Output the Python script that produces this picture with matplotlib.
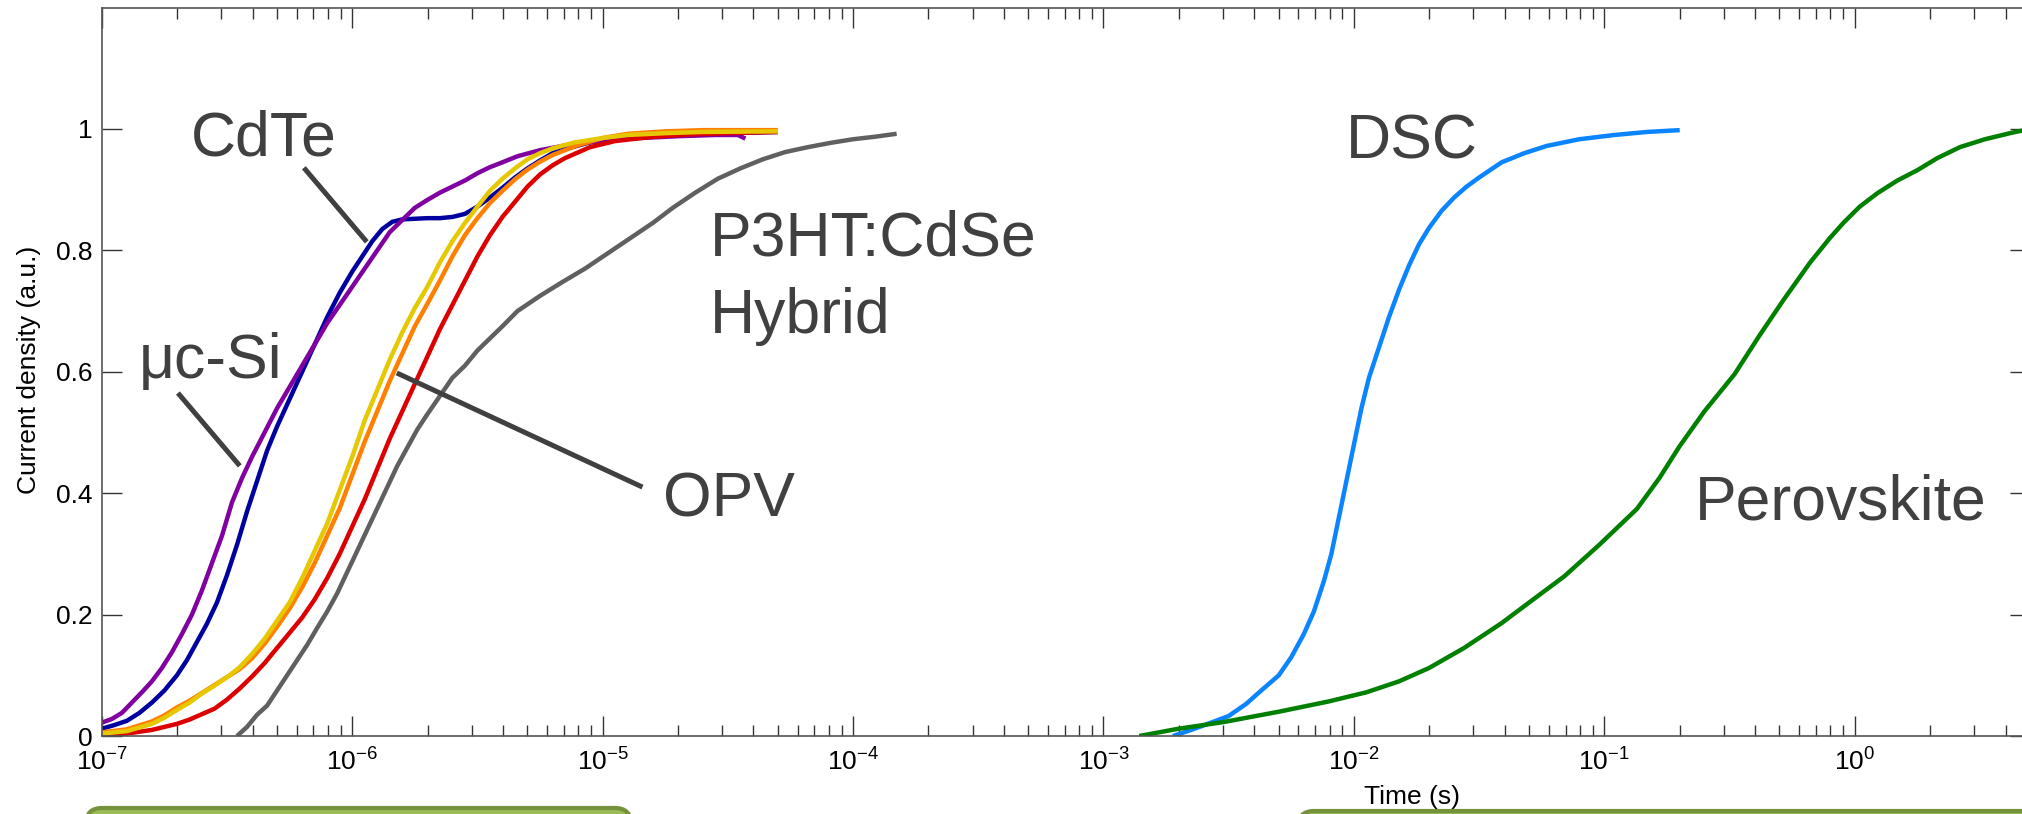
import numpy as np
import matplotlib
matplotlib.use('Agg')
import matplotlib.pyplot as plt
import matplotlib.transforms as mtransforms
from matplotlib.patches import FancyBboxPatch
from matplotlib.ticker import LogLocator, FixedLocator, FuncFormatter, NullFormatter

plt.rcParams['font.family'] = ['Liberation Sans', 'DejaVu Sans']
plt.rcParams['axes.unicode_minus'] = False

# ── Transients (log10 of time in s, normalised current) ──────────────────────
logt_usi = [-7.00, -6.96, -6.92, -6.88, -6.84, -6.80, -6.76, -6.72, -6.68, -6.64, -6.60,
            -6.56, -6.52, -6.48, -6.44, -6.40, -6.35, -6.30, -6.25, -6.20, -6.15,
            -6.10, -6.05, -6.00, -5.95, -5.90, -5.85, -5.80, -5.75, -5.70, -5.65,
            -5.60, -5.55, -5.50, -5.45, -5.40, -5.34, -5.25, -5.16, -5.05, -4.98,
            -4.85, -4.70, -4.55, -4.46, -4.43]
j_usi = [0.022, 0.028, 0.038, 0.055, 0.072, 0.090, 0.112, 0.138, 0.168, 0.200, 0.240,
         0.285, 0.33, 0.385, 0.425, 0.46, 0.50, 0.54, 0.575, 0.61, 0.645,
         0.68, 0.71, 0.74, 0.77, 0.80, 0.83, 0.85, 0.87, 0.883, 0.895,
         0.905, 0.915, 0.927, 0.937, 0.945, 0.955, 0.965, 0.972, 0.978, 0.982,
         0.985, 0.988, 0.99, 0.99, 0.984]

logt_cdte = [-7.00, -6.95, -6.90, -6.85, -6.80, -6.75, -6.70, -6.66, -6.62, -6.58, -6.54,
             -6.50, -6.46, -6.42, -6.38, -6.34, -6.30, -6.25, -6.20, -6.15, -6.10,
             -6.05, -6.00, -5.96, -5.92, -5.88, -5.84, -5.80, -5.75, -5.70, -5.65,
             -5.60, -5.55, -5.50, -5.45, -5.40, -5.35, -5.30, -5.25, -5.20, -5.12,
             -5.05, -4.95, -4.85, -4.70, -4.50, -4.30]
j_cdte = [0.012, 0.018, 0.025, 0.038, 0.055, 0.075, 0.10, 0.125, 0.155, 0.185, 0.22,
          0.265, 0.315, 0.37, 0.42, 0.47, 0.51, 0.555, 0.60, 0.645, 0.69,
          0.73, 0.765, 0.79, 0.815, 0.835, 0.847, 0.851, 0.852, 0.853, 0.853,
          0.855, 0.86, 0.872, 0.887, 0.903, 0.92, 0.935, 0.948, 0.96, 0.97,
          0.978, 0.984, 0.988, 0.991, 0.993, 0.995]

logt_opv1 = [-7.00, -6.90, -6.80, -6.75, -6.70, -6.65, -6.60, -6.55, -6.50, -6.45, -6.40,
             -6.35, -6.30, -6.25, -6.20, -6.15, -6.10, -6.05, -6.00, -5.95, -5.90,
             -5.85, -5.80, -5.75, -5.70, -5.65, -5.60, -5.55, -5.50, -5.45, -5.40,
             -5.35, -5.30, -5.25, -5.20, -5.11, -5.00, -4.90, -4.75, -4.60, -4.30]
j_opv1 = [0.004, 0.008, 0.02, 0.03, 0.043, 0.055, 0.07, 0.083, 0.097, 0.113, 0.135,
          0.16, 0.19, 0.22, 0.26, 0.305, 0.35, 0.405, 0.46, 0.52, 0.57,
          0.62, 0.665, 0.705, 0.74, 0.78, 0.815, 0.845, 0.872, 0.898, 0.918,
          0.935, 0.95, 0.96, 0.968, 0.978, 0.985, 0.99, 0.993, 0.995, 0.996]

logt_opv2 = [-7.00, -6.90, -6.80, -6.75, -6.70, -6.65, -6.60, -6.55, -6.50, -6.45, -6.40,
             -6.35, -6.30, -6.25, -6.20, -6.15, -6.10, -6.05, -6.00, -5.95, -5.90,
             -5.85, -5.80, -5.75, -5.70, -5.65, -5.60, -5.55, -5.50, -5.45, -5.40,
             -5.35, -5.30, -5.25, -5.20, -5.10, -5.00, -4.90, -4.75, -4.60, -4.30]
j_opv2 = [0.006, 0.011, 0.024, 0.034, 0.047, 0.058, 0.071, 0.084, 0.097, 0.11, 0.128,
          0.152, 0.18, 0.21, 0.245, 0.285, 0.33, 0.375, 0.43, 0.485, 0.535,
          0.585, 0.63, 0.675, 0.712, 0.75, 0.79, 0.825, 0.853, 0.878, 0.898,
          0.917, 0.933, 0.946, 0.957, 0.973, 0.985, 0.992, 0.996, 0.998, 0.998]

logt_opv3 = [-7.00, -6.95, -6.90, -6.85, -6.80, -6.75, -6.70, -6.65, -6.60, -6.55, -6.50,
             -6.45, -6.40, -6.35, -6.30, -6.25, -6.20, -6.15, -6.10, -6.05, -6.00,
             -5.95, -5.90, -5.85, -5.80, -5.75, -5.70, -5.65, -5.60, -5.55, -5.50,
             -5.45, -5.40, -5.35, -5.30, -5.25, -5.20, -5.15, -5.05, -4.95, -4.80,
             -4.65, -4.50, -4.30]
j_opv3 = [0.0, 0.002, 0.004, 0.007, 0.01, 0.015, 0.02, 0.027, 0.036, 0.045, 0.06,
          0.078, 0.098, 0.12, 0.145, 0.17, 0.195, 0.225, 0.26, 0.30, 0.345,
          0.39, 0.44, 0.49, 0.535, 0.58, 0.625, 0.67, 0.71, 0.75, 0.79,
          0.825, 0.855, 0.88, 0.905, 0.925, 0.94, 0.952, 0.97, 0.98, 0.987,
          0.991, 0.993, 0.995]

logt_hyb = [-6.46, -6.42, -6.38, -6.34, -6.30, -6.26, -6.22, -6.18, -6.14, -6.10, -6.06,
            -6.02, -5.98, -5.94, -5.90, -5.86, -5.82, -5.78, -5.74, -5.70, -5.65,
            -5.60, -5.55, -5.50, -5.45, -5.40, -5.34, -5.25, -5.16, -5.07, -4.98,
            -4.89, -4.80, -4.72, -4.63, -4.54, -4.45, -4.36, -4.27, -4.18, -4.09,
            -4.00, -3.915, -3.826]
j_hyb = [0.0, 0.015, 0.035, 0.05, 0.075, 0.10, 0.125, 0.15, 0.178, 0.205, 0.235,
         0.27, 0.305, 0.34, 0.375, 0.41, 0.445, 0.475, 0.505, 0.53, 0.56,
         0.59, 0.61, 0.635, 0.655, 0.675, 0.70, 0.725, 0.748, 0.77, 0.795,
         0.82, 0.845, 0.87, 0.895, 0.918, 0.935, 0.95, 0.962, 0.97, 0.977,
         0.983, 0.987, 0.992]

logt_dsc = [-2.723, -2.65, -2.59, -2.50, -2.43, -2.37, -2.30, -2.25, -2.20, -2.16, -2.12,
            -2.09, -2.06, -2.03, -2.00, -1.97, -1.94, -1.90, -1.86, -1.82, -1.78,
            -1.74, -1.70, -1.65, -1.60, -1.55, -1.50, -1.41, -1.32, -1.23, -1.10,
            -0.96, -0.83, -0.699]
j_dsc = [0.0, 0.01, 0.019, 0.033, 0.053, 0.075, 0.10, 0.13, 0.168, 0.205, 0.255,
         0.30, 0.36, 0.42, 0.48, 0.54, 0.59, 0.64, 0.69, 0.735, 0.775,
         0.81, 0.837, 0.865, 0.887, 0.905, 0.92, 0.945, 0.96, 0.972, 0.983,
         0.99, 0.995, 0.998]

logt_pero = [-2.857, -2.70, -2.52, -2.30, -2.10, -1.95, -1.82, -1.70, -1.56, -1.41, -1.30,
             -1.16, -1.02, -0.87, -0.78, -0.70, -0.60, -0.48, -0.38, -0.285, -0.18,
             -0.10, -0.046, 0.02, 0.09, 0.17, 0.25, 0.33, 0.42, 0.52, 0.62, 0.699]
j_pero = [0.0, 0.012, 0.023, 0.04, 0.057, 0.072, 0.09, 0.112, 0.145, 0.186, 0.22,
          0.263, 0.315, 0.374, 0.425, 0.477, 0.535, 0.596, 0.66, 0.718, 0.779,
          0.82, 0.845, 0.872, 0.894, 0.915, 0.932, 0.952, 0.97, 0.983, 0.993, 1.0]

# drawn back to front
SERIES = [
    (logt_hyb, j_hyb, '#606060'),
    (logt_cdte, j_cdte, '#0000a0'),
    (logt_usi, j_usi, '#8000a0'),
    (logt_opv3, j_opv3, '#dd0000'),
    (logt_opv2, j_opv2, '#ff8000'),
    (logt_opv1, j_opv1, '#e6c800'),
    (logt_dsc, j_dsc, '#0a84ff'),
    (logt_pero, j_pero, '#008000'),
]

# label text, left x (log10 s), baseline y
LABELS = [
    ('CdTe', -6.644, 0.957),
    ('\u03bcc-Si', -6.852, 0.59),
    ('P3HT:CdSe', -4.573, 0.791),
    ('Hybrid', -4.573, 0.664),
    ('OPV', -4.757, 0.362),
    ('DSC', -2.031, 0.952),
    ('Perovskite', -0.638, 0.357),
]

# leader lines: (log10 s, y) start -> end
LEADERS = [
    ((-6.193, 0.936), (-5.942, 0.814)),
    ((-6.696, 0.565), (-6.449, 0.445)),
    ((-5.822, 0.598), (-4.841, 0.41)),
]

W, H, DPI = 2022, 814, 100
fig = plt.figure(figsize=(W / DPI, H / DPI), dpi=DPI)
ax = fig.add_axes([101.8 / W, 78 / H, 1928 / W, 728.5 / H])

for lt, j, c in SERIES:
    ax.plot(10 ** np.array(lt), j, color=c, linewidth=3.2,
            solid_joinstyle='round', solid_capstyle='butt')

ink = '#404040'
for (x0, y0), (x1, y1) in LEADERS:
    ax.plot([10 ** x0, 10 ** x1], [y0, y1], color=ink, linewidth=3.6,
            solid_capstyle='butt')
for txt, lx, by in LABELS:
    ax.text(10 ** lx, by, txt, fontsize=45, color=ink, ha='left', va='baseline')

ax.set_xscale('log')
ax.set_xlim(1e-7, 5)
ax.set_ylim(0, 1.2)
ax.xaxis.set_major_locator(LogLocator(base=10, numticks=20))
ax.xaxis.set_minor_locator(LogLocator(base=10, subs=np.arange(2, 10), numticks=20))
ax.xaxis.set_minor_formatter(NullFormatter())
ax.yaxis.set_major_locator(FixedLocator([0, 0.2, 0.4, 0.6, 0.8, 1.0]))
ax.yaxis.set_major_formatter(FuncFormatter(lambda v, p: f'{v:g}'))

for s in ax.spines.values():
    s.set_color('#555555')
    s.set_linewidth(1.2)
ax.tick_params(which='both', direction='in', top=True, right=True,
               color='#333333', width=1.0, labelsize=19, labelcolor='black')
ax.tick_params(which='major', length=14.4)
ax.tick_params(which='minor', length=7.9)
ax.tick_params(axis='x', pad=9)
ax.tick_params(axis='y', pad=6.5)

ax.set_xlabel('Time (s)', fontsize=19, va='top')
ax.xaxis.set_label_coords(1412 / W, 1 - 785 / H, transform=fig.transFigure)
ax.set_ylabel('Current density (a.u.)', fontsize=19, va='center')
ax.yaxis.set_label_coords(29 / W, 1 - 370 / H, transform=fig.transFigure)

# olive panels along the bottom edge
px = mtransforms.IdentityTransform()
for x0, x1, top in [(86, 631, H - 808), (1298, 2120, H - 811)]:
    box = FancyBboxPatch((x0, -60), x1 - x0, top + 60,
                         boxstyle='round,pad=0,rounding_size=16',
                         facecolor='#9bbb59', edgecolor='#76923c', linewidth=3.0,
                         transform=px)
    fig.patches.append(box)

fig.savefig('out.png', dpi=DPI)
